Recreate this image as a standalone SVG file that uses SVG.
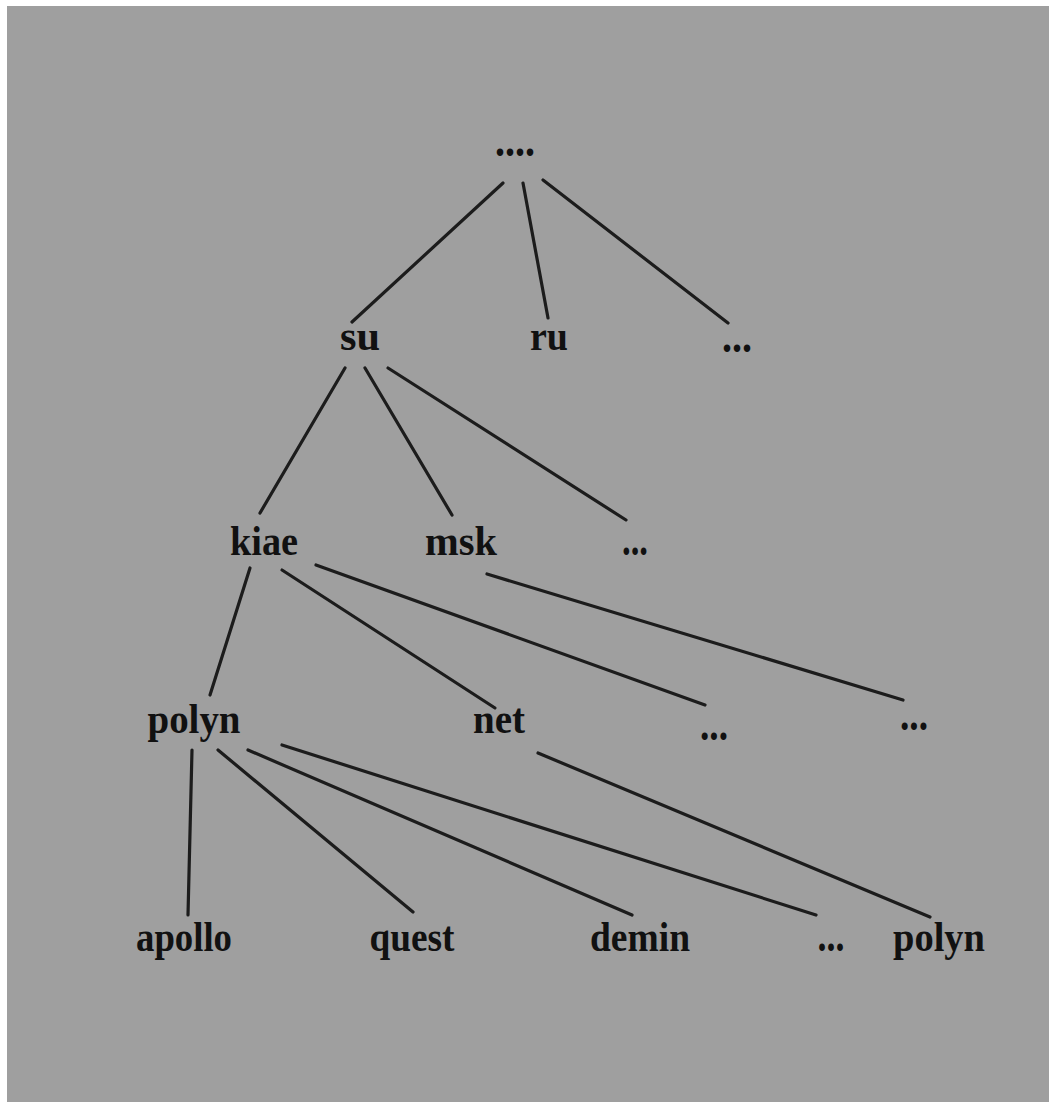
<svg xmlns="http://www.w3.org/2000/svg" width="1049" height="1102" viewBox="0 0 1049 1102">
<style>
.lbl{font-family:"Liberation Serif","Times New Roman",serif;font-weight:bold;font-size:42px;fill:#111;text-anchor:middle}
.dots{font-family:"Liberation Serif","Times New Roman",serif;font-weight:bold;font-size:46px;fill:#111;text-anchor:middle}
.e{stroke:#1c1c1c;stroke-width:3.2;fill:none;stroke-linecap:round}
</style>
<rect x="0" y="0" width="1049" height="1102" fill="#ffffff"/>
<rect x="7" y="6" width="1042" height="1096" fill="#9f9f9f"/>
<g id="connectors">
<line class="e" x1="503" y1="183" x2="352" y2="322"/>
<line class="e" x1="523" y1="183" x2="548" y2="318"/>
<line class="e" x1="543" y1="180" x2="728" y2="323"/>
<line class="e" x1="345" y1="368" x2="260" y2="513"/>
<line class="e" x1="365" y1="368" x2="452" y2="515"/>
<line class="e" x1="388" y1="368" x2="626" y2="520"/>
<line class="e" x1="250" y1="568" x2="210" y2="695"/>
<line class="e" x1="282" y1="570" x2="495" y2="708"/>
<line class="e" x1="316" y1="565" x2="705" y2="705"/>
<line class="e" x1="487" y1="574" x2="903" y2="700"/>
<line class="e" x1="192" y1="750" x2="188" y2="915"/>
<line class="e" x1="218" y1="750" x2="413" y2="912"/>
<line class="e" x1="248" y1="750" x2="632" y2="915"/>
<line class="e" x1="282" y1="745" x2="816" y2="915"/>
<line class="e" x1="538" y1="753" x2="930" y2="917"/>
</g>
<g id="root"><text class="dots" x="515" y="156" textLength="40" lengthAdjust="spacingAndGlyphs">....</text></g>
<g id="su"><text class="lbl" x="360" y="350" textLength="40" lengthAdjust="spacingAndGlyphs">su</text></g>
<g id="ru"><text class="lbl" x="549" y="350" textLength="38" lengthAdjust="spacingAndGlyphs">ru</text></g>
<g id="dots1"><text class="dots" x="737" y="352" textLength="30" lengthAdjust="spacingAndGlyphs">...</text></g>
<g id="kiae"><text class="lbl" x="264" y="555" textLength="68" lengthAdjust="spacingAndGlyphs">kiae</text></g>
<g id="msk"><text class="lbl" x="461" y="555" textLength="72" lengthAdjust="spacingAndGlyphs">msk</text></g>
<g id="dots2"><text class="dots" x="635" y="555" textLength="26" lengthAdjust="spacingAndGlyphs">...</text></g>
<g id="polyn1"><text class="lbl" x="194" y="733" textLength="93" lengthAdjust="spacingAndGlyphs">polyn</text></g>
<g id="net"><text class="lbl" x="499" y="733" textLength="52" lengthAdjust="spacingAndGlyphs">net</text></g>
<g id="dots3"><text class="dots" x="714" y="740" textLength="28" lengthAdjust="spacingAndGlyphs">...</text></g>
<g id="dots4"><text class="dots" x="914" y="730" textLength="28" lengthAdjust="spacingAndGlyphs">...</text></g>
<g id="apollo"><text class="lbl" x="184" y="951" textLength="96" lengthAdjust="spacingAndGlyphs">apollo</text></g>
<g id="quest"><text class="lbl" x="412" y="951" textLength="85" lengthAdjust="spacingAndGlyphs">quest</text></g>
<g id="demin"><text class="lbl" x="640" y="951" textLength="100" lengthAdjust="spacingAndGlyphs">demin</text></g>
<g id="dots5"><text class="dots" x="831" y="951" textLength="27" lengthAdjust="spacingAndGlyphs">...</text></g>
<g id="polyn2"><text class="lbl" x="939" y="951" textLength="92" lengthAdjust="spacingAndGlyphs">polyn</text></g>
</svg>
